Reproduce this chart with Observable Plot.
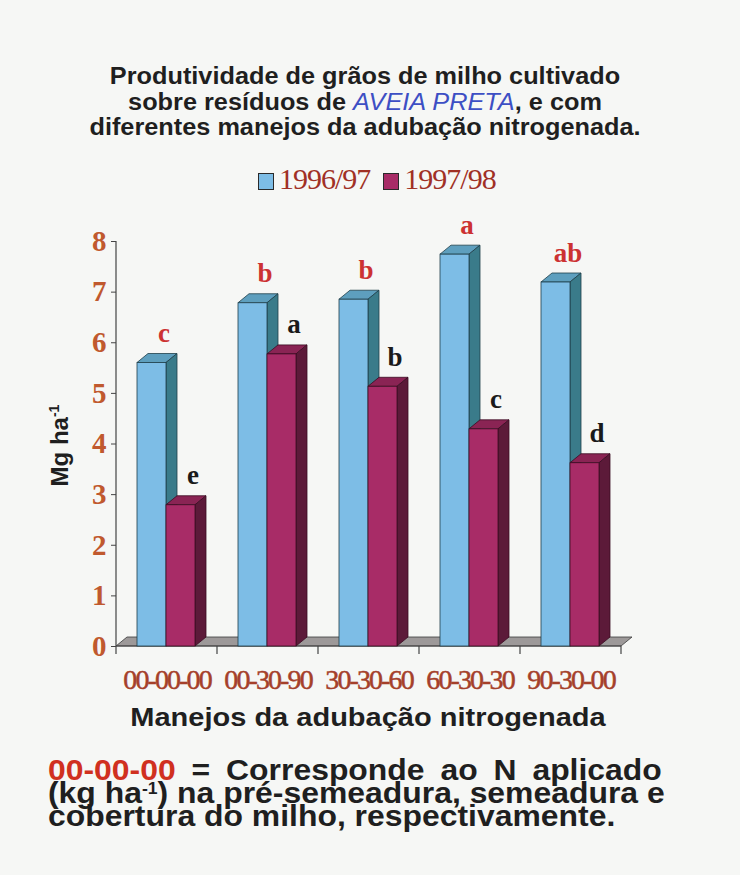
<!DOCTYPE html>
<html><head><meta charset="utf-8">
<script src="https://cdn.jsdelivr.net/npm/d3@7"></script>
<script src="https://cdn.jsdelivr.net/npm/@observablehq/plot@0.6"></script>
<style>
body{margin:0;background:#f6f7f5;}
#page{position:relative;width:740px;height:875px;overflow:hidden;font-family:"Liberation Sans",Arial,sans-serif;background:#f6f7f5;}
.title{position:absolute;left:0;width:730px;top:64px;text-align:center;font-weight:bold;font-size:23px;line-height:25.5px;color:#1f1f1f;transform:scaleX(1.1);transform-origin:365px 0;}
.title em{color:#3d4fc4;font-weight:normal;font-style:italic;}
.legend{position:absolute;top:162px;left:258px;font-family:"Liberation Serif","Times New Roman",serif;font-size:30px;line-height:34px;letter-spacing:-1px;color:#a03025;white-space:nowrap;}
.legend .sw{display:inline-block;width:14px;height:15px;border:1px solid #2a2a2a;margin-right:5px;vertical-align:-1px;}
.legend .item{margin-right:13px;}
#chart{position:absolute;top:200px;left:0;}
#chart g[aria-label="x-axis tick label"] text{letter-spacing:-1.9px;}
.xtitle{position:absolute;top:702px;left:0;width:736px;text-align:center;font-weight:bold;font-size:25px;line-height:30px;color:#1f1f1f;transform:scaleX(1.16);transform-origin:368px 0;}
.note{position:absolute;left:48px;width:558px;top:759px;font-weight:bold;font-size:29px;line-height:23px;color:#1f1f1f;transform:scaleX(1.1);transform-origin:0 0;}
.note div{text-align:justify;text-align-last:justify;white-space:nowrap;}
.note div.last{text-align-last:left;}
.note .red{color:#d0301f;}
.note sup{font-size:16px;vertical-align:9px;line-height:0;}
</style>
</head><body>
<div id="page">
  <div class="title">Produtividade de grãos de milho cultivado<br>sobre resíduos de <em>AVEIA PRETA</em>, e com<br>diferentes manejos da adubação nitrogenada.</div>
  <div class="legend" id="legend"></div>
  <div id="chart"></div>
  <div class="xtitle">Manejos da adubação nitrogenada</div>
  <div class="note">
    <div><span class="red">00-00-00</span> = Corresponde ao N aplicado</div>
    <div>(kg ha<sup>-1</sup>) na pré-semeadura, semeadura e</div>
    <div class="last">cobertura do milho, respectivamente.</div>
  </div>
</div>
<script>
// ---- data ----
const categories = ["00-00-00", "00-30-90", "30-30-60", "60-30-30", "90-30-00"];
const seriesNames = ["1996/97", "1997/98"];
const yield9697 = [5.60, 6.78, 6.85, 7.74, 7.19];
const yield9798 = [2.79, 5.77, 5.13, 4.29, 3.62];
const letters9697 = ["c", "b", "b", "a", "ab"];
const letters9798 = ["e", "a", "b", "c", "d"];
const yTicks = [0, 1, 2, 3, 4, 5, 6, 7, 8];

// ---- styles ----
const blue = {front: "#7dbde6", top: "#5e9fbe", side: "#3a7b8a", line: "#1f3f4a"};
const purple = {front: "#a82c67", top: "#8a2454", side: "#5c1a39", line: "#3a0d22"};
const DX = 11, DY = 9;
const INSET = [[21, 51], [50, 22]];

const rows9697 = categories.map((c, i) => ({cat: c, value: yield9697[i], letter: letters9697[i]}));
const rows9798 = categories.map((c, i) => ({cat: c, value: yield9798[i], letter: letters9798[i]}));

// legend
const legend = document.getElementById("legend");
legend.innerHTML = seriesNames.map((s, i) =>
  `<span class="item"><span class="sw" style="background:${i ? purple.front : blue.front}"></span>${s}</span>`).join("");

function bw(scales) {
  return scales.x(categories[1]) - scales.x(categories[0]);
}

function depthFaces(rows, col, inset) {
  return (index, scales, values, dimensions) => {
    const g = d3.create("svg:g");
    const w = bw(scales);
    const y0 = scales.y(0);
    for (const r of rows) {
      const x = scales.x(r.cat) + inset[0];
      const x2 = scales.x(r.cat) + w - inset[1];
      const y = scales.y(r.value);
      g.append("path")
        .attr("d", `M${x},${y}L${x + DX},${y - DY}L${x2 + DX},${y - DY}L${x2},${y}Z`)
        .attr("fill", col.top).attr("stroke", col.line).attr("stroke-width", 0.8);
      g.append("path")
        .attr("d", `M${x2},${y}L${x2 + DX},${y - DY}L${x2 + DX},${y0 - DY}L${x2},${y0}Z`)
        .attr("fill", col.side).attr("stroke", col.line).attr("stroke-width", 0.8);
    }
    return g.node();
  };
}

function floorAndAxes(index, scales, values, dimensions) {
  const g = d3.create("svg:g");
  const x0 = dimensions.marginLeft, x1 = dimensions.width - dimensions.marginRight;
  const y0 = scales.y(0);
  g.append("path")
    .attr("d", `M${x0},${y0}L${x0 + DX},${y0 - DY}L${x1 + DX},${y0 - DY}L${x1},${y0}Z`)
    .attr("fill", "#9d9999").attr("stroke", "#3a3a3a").attr("stroke-width", 0.8);
  g.append("line").attr("x1", x0).attr("x2", x0).attr("y1", scales.y(yTicks[yTicks.length - 1])).attr("y2", y0)
    .attr("stroke", "#444").attr("stroke-width", 1.2);
  g.append("line").attr("x1", x0).attr("x2", x1).attr("y1", y0).attr("y2", y0)
    .attr("stroke", "#444").attr("stroke-width", 1.2);
  const bounds = categories.map(c => scales.x(c)).concat([x1]);
  for (const b of bounds) {
    g.append("line").attr("x1", b).attr("x2", b).attr("y1", y0).attr("y2", y0 + 8)
      .attr("stroke", "#444").attr("stroke-width", 1.2);
  }
  // y axis title
  const cy = (scales.y(yTicks[yTicks.length - 1]) + y0) / 2 + 2;
  const t = g.append("text")
    .attr("transform", `translate(68,${cy}) rotate(-90)`)
    .attr("text-anchor", "middle")
    .attr("font-family", "'Liberation Sans', Arial, sans-serif")
    .attr("font-weight", "bold").attr("font-size", 24).attr("fill", "#1f1f1f");
  t.append("tspan").text("Mg ha");
  t.append("tspan").attr("font-size", 14).attr("dy", -9).text("-1");
  return g.node();
}

const serif = "'Liberation Serif', 'Times New Roman', serif";

const chart = Plot.plot({
  width: 740,
  height: 500,
  marginLeft: 116,
  marginRight: 119,
  marginTop: 41,
  marginBottom: 54,
  style: {background: "transparent", overflow: "visible"},
  x: {domain: categories, padding: 0, axis: null},
  y: {domain: [0, 8], axis: null},
  marks: [
    floorAndAxes,
    Plot.axisY({ticks: yTicks, tickSize: 5, tickPadding: 5, stroke: "#444", fill: "#c0592e",
      fontSize: 29, fontWeight: "bold", fontFamily: serif, label: null}),
    Plot.axisX({tickSize: 0, tickPadding: 23, fill: "#a5402a", textStroke: "#a5402a", textStrokeWidth: 0.5,
      fontSize: 28, fontFamily: serif, label: null}),
    depthFaces(rows9697, blue, INSET[0]),
    Plot.barY(rows9697, {x: "cat", y: "value", fill: blue.front, stroke: blue.line, strokeWidth: 0.8,
      insetLeft: INSET[0][0], insetRight: INSET[0][1]}),
    depthFaces(rows9798, purple, INSET[1]),
    Plot.barY(rows9798, {x: "cat", y: "value", fill: purple.front, stroke: purple.line, strokeWidth: 0.8,
      insetLeft: INSET[1][0], insetRight: INSET[1][1]}),
    Plot.text(rows9697, {x: "cat", y: "value", text: "letter", dx: -3, dy: -21, lineAnchor: "bottom",
      fill: "#cc3232", fontSize: 27, fontWeight: "bold", fontFamily: serif}),
    Plot.text(rows9798, {x: "cat", y: "value", text: "letter", dx: 26, dy: -21, lineAnchor: "bottom",
      fill: "#1a1a1a", fontSize: 27, fontWeight: "bold", fontFamily: serif})
  ]
});
document.getElementById("chart").appendChild(chart);
</script>
</body></html>
